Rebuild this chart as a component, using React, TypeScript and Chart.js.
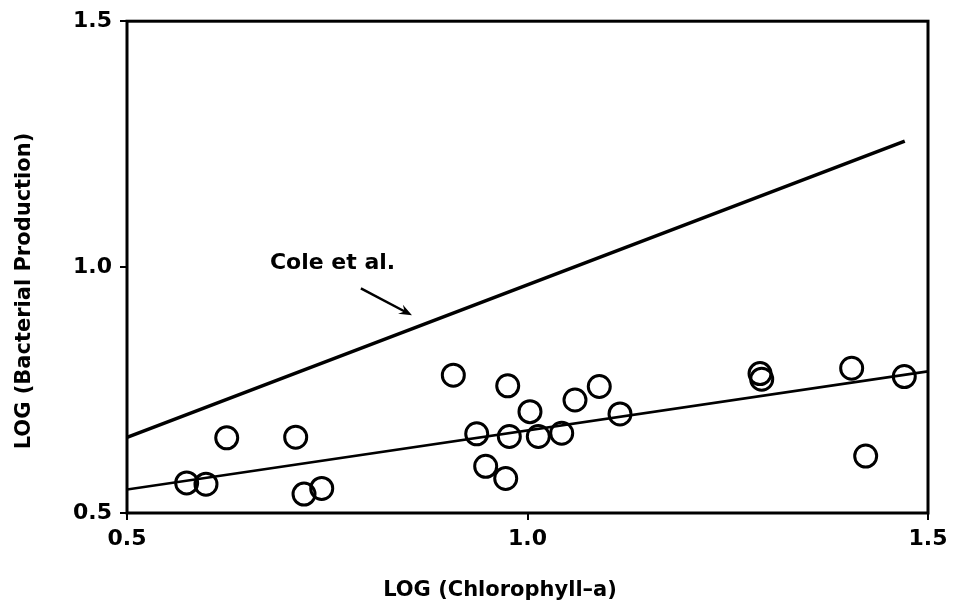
import { useEffect, useRef } from "react";
import { Chart, registerables } from "chart.js";

Chart.register(...registerables);

// ---- data ----
const xTicks = [0.5, 1.0, 1.5];
const yTicks = [0.5, 1.0, 1.5];

const chlorophyll = [
  0.5745, 0.5986, 0.6245, 0.7106, 0.721, 0.7431, 0.9074, 0.9366, 0.9478, 0.9728,
  0.9753, 0.9773, 1.0031, 1.0135, 1.0427, 1.0593, 1.0896, 1.1155, 1.2903, 1.2924,
  1.4047, 1.4222, 1.4704,
];
const production = [
  0.5612, 0.5586, 0.6529, 0.6541, 0.5384, 0.5499, 0.7802, 0.661, 0.5949, 0.5701,
  0.7586, 0.6556, 0.7061, 0.6556, 0.6622, 0.7297, 0.7572, 0.7014, 0.7834, 0.7721,
  0.7943, 0.6158, 0.7774,
];

const fitX = [0.5, 1.5];
const fitY = [0.548, 0.788];
const coleX = [0.5, 1.471];
const coleY = [0.654, 1.256];

const xTitle = "LOG (Chlorophyll–a)";
const yTitle = "LOG (Bacterial Production)";
const coleLabel = "Cole et al.";
const coleLabelAt = { x: 0.6785, y: 1.007 };
const arrowFrom = { x: 0.792, y: 0.9566 };
const arrowTo = { x: 0.8558, y: 0.902 };

const FONT = "'DejaVu Sans', sans-serif";

const framePlugin = {
  id: "frameAndText",
  afterDraw(chart: any) {
    const { ctx, chartArea: a, scales } = chart;
    const sx = scales.x;
    const sy = scales.y;
    ctx.save();
    // frame
    ctx.strokeStyle = "#000";
    ctx.lineWidth = 3;
    ctx.strokeRect(a.left, a.top, a.right - a.left, a.bottom - a.top);

    // annotation label
    ctx.fillStyle = "#000";
    ctx.font = `bold 22px ${FONT}`;
    ctx.textAlign = "left";
    ctx.textBaseline = "middle";
    ctx.fillText(coleLabel, sx.getPixelForValue(coleLabelAt.x), sy.getPixelForValue(coleLabelAt.y));

    // arrow
    const x1 = sx.getPixelForValue(arrowFrom.x);
    const y1 = sy.getPixelForValue(arrowFrom.y);
    const x2 = sx.getPixelForValue(arrowTo.x);
    const y2 = sy.getPixelForValue(arrowTo.y);
    const ang = Math.atan2(y2 - y1, x2 - x1);
    ctx.lineWidth = 2.5;
    ctx.beginPath();
    ctx.moveTo(x1, y1);
    ctx.lineTo(x2 - 6 * Math.cos(ang), y2 - 6 * Math.sin(ang));
    ctx.stroke();
    const hl = 14;
    const hw = 0.38;
    ctx.beginPath();
    ctx.moveTo(x2, y2);
    ctx.lineTo(x2 - hl * Math.cos(ang - hw), y2 - hl * Math.sin(ang - hw));
    ctx.lineTo(x2 - hl * 0.6 * Math.cos(ang), y2 - hl * 0.6 * Math.sin(ang));
    ctx.lineTo(x2 - hl * Math.cos(ang + hw), y2 - hl * Math.sin(ang + hw));
    ctx.closePath();
    ctx.fill();

    // axis titles
    ctx.font = `bold 21px ${FONT}`;
    ctx.textAlign = "center";
    ctx.textBaseline = "middle";
    ctx.fillText(xTitle, 500, 591);
    ctx.translate(25, 291);
    ctx.rotate(-Math.PI / 2);
    ctx.fillText(yTitle, 0, 0);
    ctx.restore();
  },
};

export default function App() {
  const ref = useRef<HTMLCanvasElement | null>(null);

  useEffect(() => {
    document.body.style.margin = "0";
    if (!ref.current) return;
    const tickFont = { family: FONT, size: 22, weight: "bold" as const };
    const chart = new Chart(ref.current, {
      type: "scatter",
      data: {
        datasets: [
          {
            label: "data",
            data: chlorophyll.map((x, i) => ({ x, y: production[i] })),
            pointRadius: 11,
            pointHoverRadius: 11,
            borderWidth: 3,
            pointBorderWidth: 3,
            borderColor: "#000",
            backgroundColor: "rgba(0,0,0,0)",
            showLine: false,
          },
          {
            label: "fit",
            data: fitX.map((x, i) => ({ x, y: fitY[i] })),
            showLine: true,
            pointRadius: 0,
            borderWidth: 2.5,
            borderColor: "#000",
          },
          {
            label: "cole",
            data: coleX.map((x, i) => ({ x, y: coleY[i] })),
            showLine: true,
            pointRadius: 0,
            borderWidth: 3.5,
            borderColor: "#000",
          },
        ],
      },
      options: {
        animation: false,
        responsive: false,
        devicePixelRatio: 1,
        layout: { padding: { top: 18, right: 28, left: 0, bottom: 0 } },
        plugins: {
          legend: { display: false },
          tooltip: { enabled: false },
          title: { display: false },
        },
        scales: {
          x: {
            type: "linear",
            min: 0.5,
            max: 1.5,
            afterBuildTicks: (s: any) => {
              s.ticks = xTicks.map((v) => ({ value: v }));
            },
            afterFit: (s: any) => {
              s.height = 95;
            },
            ticks: {
              color: "#000",
              font: tickFont,
              padding: 6,
              maxRotation: 0,
              callback: (v: any) => Number(v).toFixed(1),
            },
            grid: {
              drawOnChartArea: false,
              drawTicks: true,
              tickLength: 7,
              color: "#000",
              lineWidth: 2,
            },
            border: { display: false },
          },
          y: {
            type: "linear",
            min: 0.5,
            max: 1.5,
            afterBuildTicks: (s: any) => {
              s.ticks = yTicks.map((v) => ({ value: v }));
            },
            afterFit: (s: any) => {
              s.width = 127;
            },
            ticks: {
              color: "#000",
              font: tickFont,
              padding: 8,
              callback: (v: any) => Number(v).toFixed(1),
            },
            grid: {
              drawOnChartArea: false,
              drawTicks: true,
              tickLength: 7,
              color: "#000",
              lineWidth: 2,
            },
            border: { display: false },
          },
        },
      },
      plugins: [framePlugin],
    });
    return () => chart.destroy();
  }, []);

  return (
    <div style={{ width: 956, height: 608, background: "#fff" }}>
      <canvas ref={ref} width={956} height={608} />
    </div>
  );
}
